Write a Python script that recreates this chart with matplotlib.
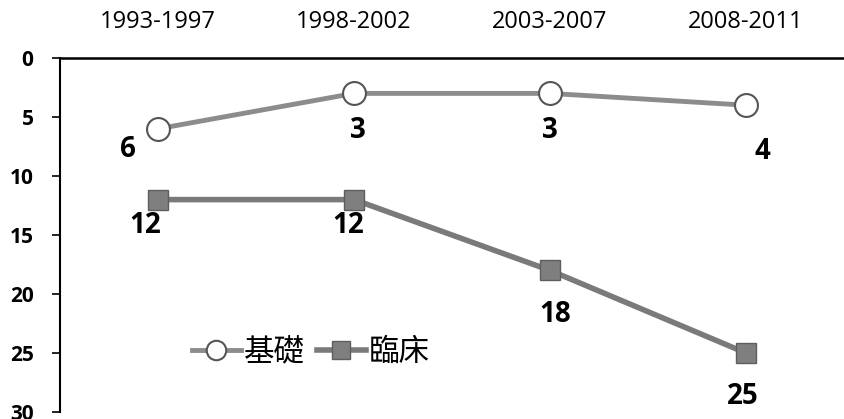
import matplotlib.pyplot as plt

periods = ["1993-1997", "1998-2002", "2003-2007", "2008-2011"]
basic = [6, 3, 3, 4]
clinical = [12, 12, 18, 25]
basic_name = "基礎"
clinical_name = "臨床"

plt.rcParams['font.family'] = ['Open Sans', 'Noto Sans CJK TC', 'DejaVu Sans']

fig = plt.figure(figsize=(8.45, 4.19), dpi=100)
ax = fig.add_axes([60 / 845, 1 - 412 / 419, 784 / 845, 354 / 419])

x = list(range(len(periods)))
ax.plot(x, basic, color="#8c8c8c", lw=3.5, marker="o", ms=16.5,
        mfc="white", mec="#555555", mew=1.5, label=basic_name)
ax.plot(x, clinical, color="#7a7a7a", lw=4, marker="s", ms=14.5,
        mfc="#7f7f7f", mec="#5e5e5e", mew=1, label=clinical_name)

# data labels (offsets in points)
boff = [(-22, 15), (3, 27), (0, 27), (12, 33)]
for i, v in enumerate(basic):
    dx, dy = boff[i]
    ax.annotate(str(v), (i, v), xytext=(dx, -dy), textcoords="offset points",
                ha="center", va="center", fontsize=20, fontweight="bold")
coff = [(-9, 19), (-4, 19), (4, 32), (-2, 31)]
for i, v in enumerate(clinical):
    dx, dy = coff[i]
    ax.annotate(str(v), (i, v), xytext=(dx, -dy), textcoords="offset points",
                ha="center", va="center", fontsize=20, fontweight="bold")

ax.set_xlim(-0.5, 3.5)
ax.set_ylim(30, 0)
ax.set_yticks(range(0, 31, 5))
ax.set_xticks(x)
ax.set_xticklabels(periods, fontsize=17)
ax.xaxis.tick_top()
ax.tick_params(axis="x", length=0, pad=17)
ax.tick_params(axis="y", length=6, width=1.2, labelsize=15, pad=13)
for lbl in ax.get_yticklabels():
    lbl.set_fontweight("bold")
ax.spines["right"].set_visible(False)
ax.spines["bottom"].set_visible(False)
ax.spines["top"].set_linewidth(1.8)
ax.spines["left"].set_linewidth(1.5)

ax.legend(loc="center", bbox_to_anchor=(0.32, 0.167), ncol=2, frameon=False,
          fontsize=22, handlelength=1.6, columnspacing=0.4, handletextpad=0.1,
          markerscale=0.85)

fig.savefig("out.png", dpi=100)
